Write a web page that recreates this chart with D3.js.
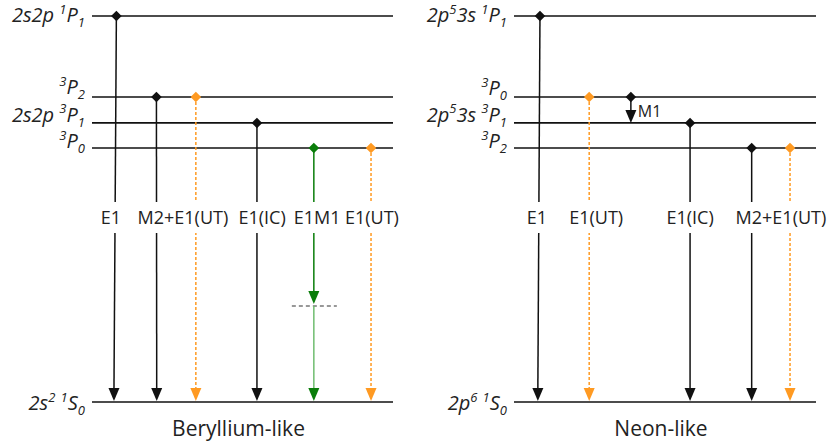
<!DOCTYPE html>
<html>
<head>
<meta charset="utf-8">
<script src="https://cdn.jsdelivr.net/npm/d3@7"></script>
<style>
  html, body { margin: 0; padding: 0; background: #fff; }
  svg { display: block; }
</style>
</head>
<body>
<svg id="chart" width="828" height="445"></svg>
<script>
// Level labels use a tiny markup: ^x = superscript char, _x = subscript char
const beLevelLabels = ["2s2p ^1P_1", "^3P_2", "2s2p ^3P_1", "^3P_0", "2s^2 ^1S_0"];
const beLevelEnergy = [100, 79.0, 72.3, 65.8, 0];

const neLevelLabels = ["2p^53s ^1P_1", "^3P_0", "2p^53s ^3P_1", "^3P_2", "2p^6 ^1S_0"];
const neLevelEnergy = [100, 79.0, 72.3, 65.8, 0];

// Transitions: upper level index -> ground, kind, x position along level (0-100)
const beTransFrom = [0, 1, 1, 2, 3, 3];
const beTransKind = ["solid", "solid", "ut", "solid", "twophoton", "ut"];
const beTransXTop = [8.1, 21.4, 34.5, 54.8, 73.7, 92.7];
const beTransXBot = [7.3, 21.5, 34.5, 54.8, 73.7, 92.7];
const beVirtualEnergy = 24.9;

const neTransFrom = [0, 1, 2, 3, 3];
const neTransKind = ["solid", "ut", "solid", "solid", "ut"];
const neTransXTop = [8.6, 24.9, 58.3, 78.7, 91.4];
const neTransXBot = [7.9, 24.9, 58.3, 78.7, 91.4];

// Intra-multiplet M1 decay (Ne-like 3P0 -> 3P1)
const neM1From = 1, neM1To = 2, neM1X = 38.7, neM1Label = "M1";

const beTransLabels = ["E1", "M2+E1(UT)", "E1(IC)", "E1M1", "E1(UT)"];
const beTransLabelX = [6.3, 30.2, 56.5, 74.8, 93.0];
const neTransLabels = ["E1", "E1(UT)", "E1(IC)", "M2+E1(UT)"];
const neTransLabelX = [7.6, 27.2, 58.3, 88.4];

const panelTitles = ["Beryllium-like", "Neon-like"];

const svg = d3.select("#chart");
const FONT = "'Open Sans', 'Noto Sans', sans-serif";
const INK = "#222";
const ORANGE = "#ff9a22";
const GREEN = "#0a7d0a";
const GREEN_LIGHT = "#6fbd6f";
const AW = 5.5, AH = 13; // arrowhead half-width and length

function arrowHead(g, xTip, yTip, color) {
  g.append("path")
    .attr("d", `M${xTip - AW},${yTip - AH} L${xTip + AW},${yTip - AH} L${xTip},${yTip} Z`)
    .attr("fill", color);
}

const y = d3.scaleLinear().domain([0, 100]).range([402, 16]);

function addLabel(g, text, x, yBase, anchor) {
  const t = g.append("text")
    .attr("x", x).attr("y", yBase)
    .attr("text-anchor", anchor)
    .attr("font-family", FONT)
    .attr("font-style", "italic")
    .attr("font-size", 20)
    .attr("fill", INK);
  const re = /([\^_])(.)|([^\^_]+)/g;
  let m, shift = 0;
  while ((m = re.exec(text)) !== null) {
    if (m[3] !== undefined) {
      t.append("tspan").attr("dy", -shift).attr("font-size", 20).text(m[3]);
      shift = 0;
    } else {
      const target = m[1] === "^" ? -8.5 : 5;
      t.append("tspan").attr("dy", target - shift).attr("font-size", 13).text(m[2]);
      shift = target;
    }
  }
}

function drawPanel(opt) {
  const g = svg.append("g");
  const x = d3.scaleLinear().domain([0, 100]).range(opt.range);

  // energy levels
  g.selectAll("line.level").data(opt.energies).join("line")
    .attr("class", "level")
    .attr("x1", x(0)).attr("x2", x(100))
    .attr("y1", d => y(d)).attr("y2", d => y(d))
    .attr("stroke", "#111").attr("stroke-width", 1.6);

  opt.levelLabels.forEach((lab, i) => {
    addLabel(g, lab, x(0) - 7, y(opt.energies[i]) + opt.labelDy[i], "end");
  });

  // decay arrows
  const trans = opt.from.map((f, i) => ({
    from: f, kind: opt.kind[i], x1: x(opt.xTop[i]), x2: x(opt.xBot[i])
  }));

  trans.forEach(t => {
    const y1 = y(opt.energies[t.from]);
    const y2 = y(0) - 1;
    if (t.kind === "twophoton") {
      const yv = y(opt.virtual);
      g.append("line")
        .attr("x1", t.x1 - 22).attr("x2", t.x1 + 23)
        .attr("y1", yv).attr("y2", yv)
        .attr("stroke", "#777").attr("stroke-width", 1.5)
        .attr("stroke-dasharray", "4,3");
      g.append("line")
        .attr("x1", t.x1).attr("x2", t.x1).attr("y1", y1).attr("y2", yv - AH)
        .attr("stroke", GREEN).attr("stroke-width", 1.5);
      arrowHead(g, t.x1, yv - 2, GREEN);
      g.append("line")
        .attr("x1", t.x1).attr("x2", t.x2).attr("y1", yv).attr("y2", y2 - AH)
        .attr("stroke", GREEN_LIGHT).attr("stroke-width", 1.5);
      arrowHead(g, t.x2, y2, GREEN);
    } else {
      const color = t.kind === "ut" ? ORANGE : "#111";
      g.append("line")
        .attr("x1", t.x1).attr("x2", t.x2).attr("y1", y1).attr("y2", y2 - AH)
        .attr("stroke", color).attr("stroke-width", 1.5)
        .attr("stroke-dasharray", t.kind === "ut" ? "3,2" : null);
      arrowHead(g, t.x2, y2, color);
    }
  });

  // optional M1 decay within the triplet
  if (opt.m1) {
    const mx = x(opt.m1.x);
    const ya = y(opt.energies[opt.m1.from]);
    const yb = y(opt.energies[opt.m1.to]);
    g.append("line")
      .attr("x1", mx).attr("x2", mx).attr("y1", ya).attr("y2", yb - AH)
      .attr("stroke", "#111").attr("stroke-width", 1.5);
    arrowHead(g, mx, yb, "#111");
    g.append("text")
      .attr("x", mx + 7).attr("y", ya + 20)
      .attr("font-family", FONT).attr("font-size", 16).attr("fill", INK)
      .text(opt.m1.label);
  }

  // transition labels with a white knock-out behind them
  const lab = g.append("g");
  opt.transLabels.forEach((s, i) => {
    const lg = lab.append("g");
    const txt = lg.append("text")
      .attr("x", x(opt.transLabelX[i])).attr("y", 224)
      .attr("text-anchor", "middle")
      .attr("font-family", FONT).attr("font-size", 18).attr("fill", INK)
      .text(s);
    const bb = txt.node().getBBox();
    lg.insert("rect", "text")
      .attr("x", bb.x - 3).attr("width", bb.width + 6)
      .attr("y", 202).attr("height", 31)
      .attr("fill", "#fff");
  });

  // diamond markers at the decay origins
  const diamond = d3.symbol().type(d3.symbolSquare).size(56);
  const marks = trans.map(t => ({ x: t.x1, y: y(opt.energies[t.from]), kind: t.kind }));
  if (opt.m1) marks.push({ x: x(opt.m1.x), y: y(opt.energies[opt.m1.from]), kind: "solid" });
  g.selectAll("path.mark").data(marks).join("path")
    .attr("class", "mark")
    .attr("d", diamond)
    .attr("transform", d => `translate(${d.x},${d.y}) rotate(45)`)
    .attr("fill", d => d.kind === "ut" ? ORANGE : d.kind === "twophoton" ? GREEN : "#111");

  // panel title
  g.append("text")
    .attr("x", (opt.range[0] + opt.range[1]) / 2 - 4).attr("y", 436)
    .attr("text-anchor", "middle")
    .attr("font-family", FONT).attr("font-size", 21).attr("fill", INK)
    .text(opt.title);
}

drawPanel({
  range: [92, 393],
  energies: beLevelEnergy,
  levelLabels: beLevelLabels,
  labelDy: [6, -3, -1, 0, 8],
  from: beTransFrom, kind: beTransKind, xTop: beTransXTop, xBot: beTransXBot,
  virtual: beVirtualEnergy,
  transLabels: beTransLabels, transLabelX: beTransLabelX,
  title: panelTitles[0]
});

drawPanel({
  range: [514, 816],
  energies: neLevelEnergy,
  levelLabels: neLevelLabels,
  labelDy: [6, -2, -1, 0, 8],
  from: neTransFrom, kind: neTransKind, xTop: neTransXTop, xBot: neTransXBot,
  m1: { from: neM1From, to: neM1To, x: neM1X, label: neM1Label },
  transLabels: neTransLabels, transLabelX: neTransLabelX,
  title: panelTitles[1]
});
</script>
</body>
</html>
